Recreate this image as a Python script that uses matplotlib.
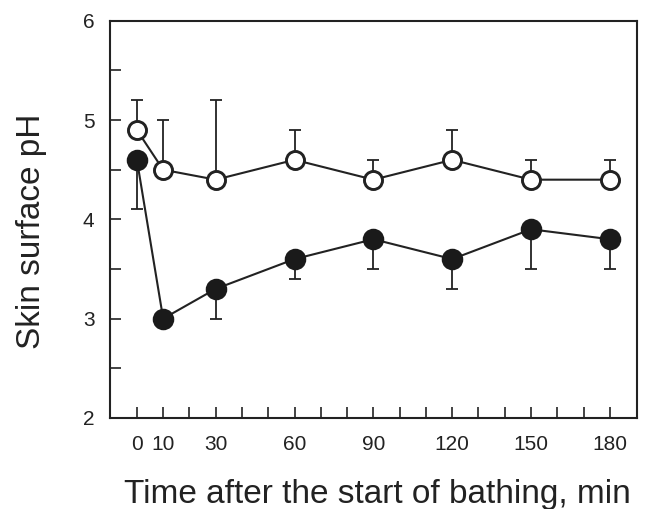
import matplotlib
matplotlib.use("Agg")
import matplotlib.pyplot as plt

plt.rcParams['font.family'] = ['Liberation Sans', 'DejaVu Sans']

time_min = [0, 10, 30, 60, 90, 120, 150, 180]
open_ph = [4.9, 4.5, 4.4, 4.6, 4.4, 4.6, 4.4, 4.4]
open_err_up = [0.3, 0.5, 0.8, 0.3, 0.2, 0.3, 0.2, 0.2]
filled_ph = [4.6, 3.0, 3.3, 3.6, 3.8, 3.6, 3.9, 3.8]
filled_err_down = [0.5, 0.0, 0.3, 0.2, 0.3, 0.3, 0.4, 0.3]
x_tick_labels = ['0', '10', '30', '60', '90', '120', '150', '180']
y_tick_labels = ['2', '3', '4', '5', '6']

fig = plt.figure(figsize=(6.46, 5.09), dpi=100)
ax = fig.add_axes([0.170, 0.179, 0.816, 0.780])

zeros = [0] * len(time_min)
ax.errorbar(time_min, filled_ph, yerr=[filled_err_down, zeros], fmt='none',
            ecolor='#222222', elinewidth=1.3, capsize=4.3, capthick=1.3, zorder=2)
ax.errorbar(time_min, open_ph, yerr=[zeros, open_err_up], fmt='none',
            ecolor='#222222', elinewidth=1.3, capsize=4.3, capthick=1.3, zorder=2)
ax.plot(time_min, filled_ph, '-o', color='#222222', lw=1.5, ms=14,
        mfc='#1a1a1a', mec='#1a1a1a', mew=1.5, zorder=3)
ax.plot(time_min, open_ph, '-o', color='#222222', lw=1.5, ms=13,
        mfc='white', mec='#222222', mew=2.1, zorder=4)

ax.set_xlim(-10.3, 190.3)
ax.set_ylim(2, 6)
ax.set_xticks(range(0, 181, 10), minor=True)
ax.set_xticks(time_min)
ax.set_xticklabels(x_tick_labels)
ax.set_yticks([2, 3, 4, 5, 6])
ax.set_yticklabels(y_tick_labels)
ax.set_yticks([2.5, 3.5, 4.5, 5.5], minor=True)
ax.tick_params(axis='both', which='both', direction='in', length=8, width=1.2,
               labelsize=15, colors='#222222')
ax.tick_params(axis='x', pad=12)
ax.tick_params(axis='y', pad=11)
for s in ax.spines.values():
    s.set_linewidth(1.5)
    s.set_color('#222222')

ax.set_xlabel('Time after the start of bathing, min', fontsize=24, color='#222222')
ax.xaxis.set_label_coords(0.508, -0.155)
ax.xaxis.label.set_va('top')
ax.set_ylabel('Skin surface pH', fontsize=24, color='#222222')
ax.yaxis.set_label_coords(-0.148, 0.47)
ax.yaxis.label.set_va('center')

fig.savefig('out.png', dpi=100)
